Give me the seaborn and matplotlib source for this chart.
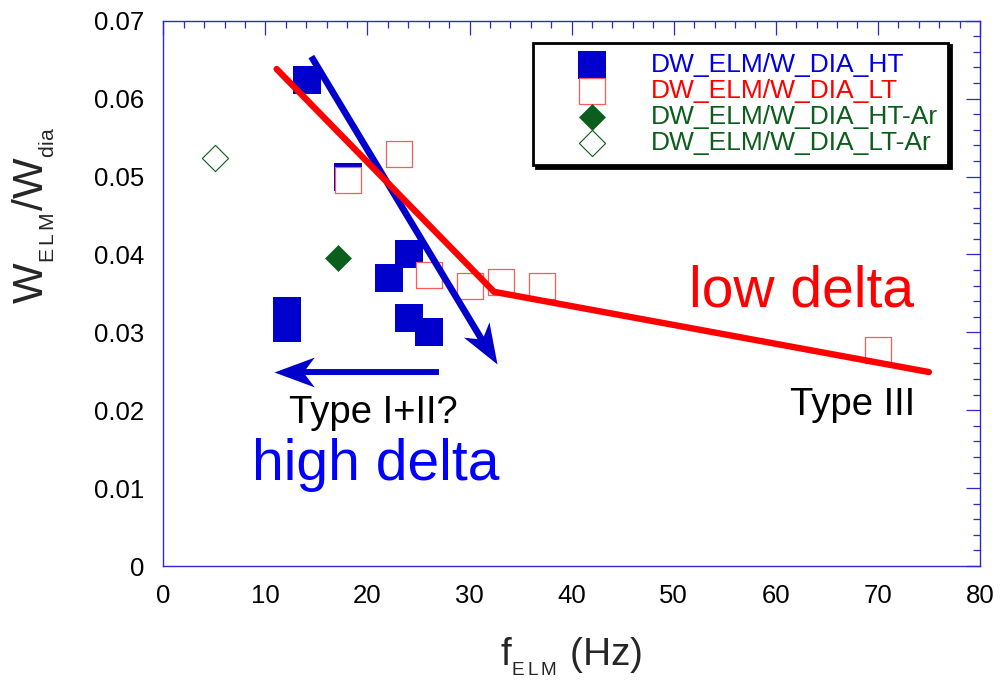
import math
import numpy as np
import matplotlib
matplotlib.use("Agg")
import matplotlib.pyplot as plt
import seaborn as sns
from matplotlib.markers import MarkerStyle
from matplotlib.path import Path
from matplotlib.transforms import Affine2D
from matplotlib.ticker import MultipleLocator

# ---------------- data ----------------
ht_f = [14.05, 12.1, 12.1, 22.1, 24.05, 24.05, 26.0, 18.1]
ht_w = [0.0624, 0.0328, 0.0306, 0.0370, 0.0400, 0.0319, 0.0300, 0.0499]

lt_f = [18.06, 23.09, 26.0, 30.04, 33.07, 37.06, 70.03]
lt_w = [0.0495, 0.0529, 0.0374, 0.0360, 0.0365, 0.0359, 0.0277]

ht_ar_f = [17.08]
ht_ar_w = [0.0396]

lt_ar_f = [5.06]
lt_ar_w = [0.0524]

series_labels = ["DW_ELM/W_DIA_HT", "DW_ELM/W_DIA_LT",
                 "DW_ELM/W_DIA_HT-Ar", "DW_ELM/W_DIA_LT-Ar"]

# guide lines / arrows (data coordinates)
low_delta_f = [11.1, 32.4, 75.0]
low_delta_w = [0.0638, 0.0352, 0.0249]
high_arrow_f = [14.5, 32.65]      # tail, tip
high_arrow_w = [0.0654, 0.0259]
type12_arrow_f = [27.0, 10.8]     # tail, tip
type12_arrow_w = [0.0249, 0.0249]

x_ticks = [0, 10, 20, 30, 40, 50, 60, 70, 80]
x_ticklabels = ["0", "10", "20", "30", "40", "50", "60", "70", "80"]
y_ticks = [0, 0.01, 0.02, 0.03, 0.04, 0.05, 0.06, 0.07]
y_ticklabels = ["0", "0.01", "0.02", "0.03", "0.04", "0.05", "0.06", "0.07"]

notes = ["Type I+II?", "high delta", "low delta", "Type III"]
notes_f = [20.6, 20.8, 62.5, 67.5]
notes_w = [0.0183, 0.0110, 0.0333, 0.0194]

# ---------------- style ----------------
BLUE = "#0000cc"
RED = "#ff0000"
GREEN = "#0b5e1b"
FRAME = "#2a2ad0"

sns.set_style("white")
plt.rcParams["font.family"] = ["Liberation Sans", "DejaVu Sans"]
plt.rcParams["mathtext.default"] = "regular"

fig = plt.figure(figsize=(10.02, 6.84), dpi=100)
ax = fig.add_axes([0.163, 0.1725, 0.815, 0.7972])
ax.set_xlim(0, 80)
ax.set_ylim(0, 0.07)

# ---------------- markers ----------------
sns.scatterplot(x=ht_f, y=ht_w, marker="s", s=397, color=BLUE,
                linewidth=0, label=series_labels[0], ax=ax, zorder=3)
sns.scatterplot(x=lt_f, y=lt_w, marker="s", s=338, color="#ff5a5a",
                facecolor="white", edgecolor="#ff5a5a", linewidth=0.9,
                label=series_labels[1], ax=ax, zorder=4)
sns.scatterplot(x=ht_ar_f, y=ht_ar_w, marker="D", s=188, color=GREEN,
                linewidth=0, label=series_labels[2], ax=ax, zorder=4)
sns.scatterplot(x=lt_ar_f, y=lt_ar_w, marker="D", s=178, color=GREEN,
                facecolor="white", edgecolor=GREEN, linewidth=0.8,
                label=series_labels[3], ax=ax, zorder=4)

# ---------------- lines / arrows ----------------
def arrow_head_marker(x0, y0, x1, y1):
    p0 = ax.transData.transform((x0, y0))
    p1 = ax.transData.transform((x1, y1))
    ang = math.atan2(p1[1] - p0[1], p1[0] - p0[0])
    verts = [(0, 0), (-1, 0.37), (-0.72, 0), (-1, -0.37), (0, 0)]
    codes = [Path.MOVETO, Path.LINETO, Path.LINETO, Path.LINETO, Path.CLOSEPOLY]
    return MarkerStyle(Path(verts, codes), transform=Affine2D().rotate(ang))

HEAD_PT = 29

def draw_arrow(fs, ws, lw):
    ax.annotate("", xy=(fs[1], ws[1]), xytext=(fs[0], ws[0]),
                arrowprops=dict(arrowstyle="-", lw=lw, color=BLUE,
                                shrinkA=0, shrinkB=HEAD_PT * 0.6,
                                capstyle="butt"), zorder=5)
    ax.plot([fs[1]], [ws[1]], linestyle="none",
            marker=arrow_head_marker(fs[0], ws[0], fs[1], ws[1]),
            markersize=2 * HEAD_PT, color=BLUE, markeredgewidth=0, zorder=5)

draw_arrow(high_arrow_f, high_arrow_w, 4.8)
draw_arrow(type12_arrow_f, type12_arrow_w, 4.3)

sns.lineplot(x=low_delta_f, y=low_delta_w, sort=False, estimator=None,
             color=RED, linewidth=4.6, ax=ax, zorder=6, legend=False)

# ---------------- annotations ----------------
note_colors = ["black", "#0000ff", "#ff0000", "black"]
note_sizes = [27.5, 41, 41, 27.5]
for t, xf, yw, c, fsz in zip(notes, notes_f, notes_w, note_colors, note_sizes):
    ax.text(xf, yw, t, color=c, fontsize=fsz, ha="center", va="baseline",
            zorder=7)

# ---------------- axes styling ----------------
ax.set_xticks(x_ticks)
ax.set_xticklabels(x_ticklabels)
ax.set_yticks(y_ticks)
ax.set_yticklabels(y_ticklabels)
ax.xaxis.set_minor_locator(MultipleLocator(2))
ax.yaxis.set_minor_locator(MultipleLocator(0.002))
ax.tick_params(which="both", direction="in", top=True, right=True,
               color=FRAME, width=0.9, labelcolor="black", labelsize=18.5)
ax.tick_params(which="major", length=10)
ax.tick_params(which="minor", length=5.3)
ax.tick_params(axis="x", which="major", pad=13)
ax.tick_params(axis="y", which="major", pad=14)
for sp in ax.spines.values():
    sp.set_color(FRAME)
    sp.set_linewidth(1.0)
    sp.set_visible(True)

ax.set_xlabel(r"$\mathregular{f_{{}_{E\,L\,M}}}$ (Hz)", fontsize=28, va="baseline")
ax.set_ylabel(r"$\mathregular{W_{{}_{E\,L\,M}}/W_{{}_{dia}}}$", fontsize=31,
              va="baseline")
ax.xaxis.set_label_coords(0.5, -0.1823)
ax.yaxis.set_label_coords(-0.147, 0.642)

# ---------------- legend ----------------
handles, labels = ax.get_legend_handles_labels()
hmap = dict(zip(labels, handles))
leg = ax.legend([hmap[l] for l in series_labels], series_labels,
                loc="upper right", bbox_to_anchor=(0.961, 0.960),
                borderaxespad=0, fontsize=19, frameon=True, fancybox=False,
                edgecolor="black", framealpha=1, scatterpoints=1,
                labelspacing=0.07, handlelength=3.66, handletextpad=0.38,
                borderpad=0.4, shadow={"color": "black", "alpha": 1})
leg.get_frame().set_linewidth(2)
leg.set_zorder(10)
legend_text_colors = ["#0000e0", "#ff0000", GREEN, GREEN]
for txt, c in zip(leg.get_texts(), legend_text_colors):
    txt.set_color(c)

fig.savefig("out.png", dpi=100)
